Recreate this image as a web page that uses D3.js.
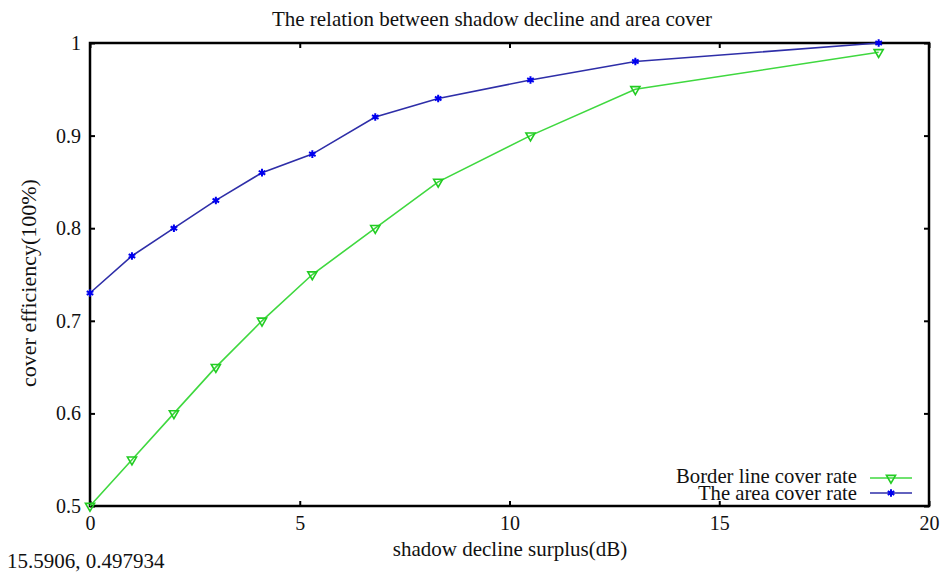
<!DOCTYPE html>
<html><head><meta charset="utf-8">
<script src="https://cdn.jsdelivr.net/npm/d3@7"></script>
<style>
body{margin:0;background:#fff;}
svg text{font-family:"Liberation Serif","DejaVu Serif","Noto Serif",serif !important;fill:#111;}
</style></head>
<body><svg id="c" width="941" height="572"></svg>
<script>
const xValues = [0, 1, 2, 3, 4.1, 5.3, 6.8, 8.3, 10.5, 13, 18.8];
const borderLine = [0.5, 0.55, 0.6, 0.65, 0.7, 0.75, 0.8, 0.85, 0.9, 0.95, 0.99];
const areaCover = [0.73, 0.77, 0.8, 0.83, 0.86, 0.88, 0.92, 0.94, 0.96, 0.98, 1.0];
const xTicks = [0, 5, 10, 15, 20];
const yTicks = [0.5, 0.6, 0.7, 0.8, 0.9, 1];
const seriesNames = ["Border line cover rate", "The area cover rate"];

const svg = d3.select("#c");
const L = 90, R = 929, T = 43, B = 506;
const x = d3.scaleLinear().domain([0, 20]).range([L, R]);
const y = d3.scaleLinear().domain([0.5, 1]).range([B, T]);

svg.append("rect").attr("x", L).attr("y", T).attr("width", R - L).attr("height", B - T)
  .attr("fill", "none").attr("stroke", "#000").attr("stroke-width", 2.5);

const fs = 20;
const gx = svg.append("g").attr("transform", `translate(0,${B})`)
  .call(d3.axisBottom(x).tickValues(xTicks).tickSize(-5).tickPadding(10).tickFormat(d3.format("d")));
const gxt = svg.append("g").attr("transform", `translate(0,${T})`)
  .call(d3.axisTop(x).tickValues(xTicks).tickSize(-5).tickFormat(""));
const gy = svg.append("g").attr("transform", `translate(${L},0)`)
  .call(d3.axisLeft(y).tickValues(yTicks).tickSize(-5).tickPadding(9).tickFormat(d => d === 1 ? "1" : d3.format(".1f")(d)));
const gyr = svg.append("g").attr("transform", `translate(${R},0)`)
  .call(d3.axisRight(y).tickValues(yTicks).tickSize(-5).tickFormat(""));
[gx, gxt, gy, gyr].forEach(g => {
  g.attr("font-family", null);
  g.select(".domain").remove();
  g.selectAll("line").attr("stroke", "#000").attr("stroke-width", 2);
  g.selectAll("text").attr("font-size", fs).attr("fill", "#111");
});
gx.selectAll("text").attr("dy", "0.71em");

const line = d3.line().x((d, i) => x(xValues[i])).y(d => y(d));
svg.append("path").datum(borderLine).attr("d", line).attr("fill", "none")
  .attr("stroke", "#3fd83f").attr("stroke-width", 1.6);
svg.append("path").datum(areaCover).attr("d", line).attr("fill", "none")
  .attr("stroke", "#2e2ea8").attr("stroke-width", 1.6);

const tri = d3.symbol().type(d3.symbolTriangle).size(36);
const star = d3.symbol().type(d3.symbolAsterisk || d3.symbolCross).size(40);
function drawTri(g, cx, cy) {
  g.append("path").attr("d", tri()).attr("transform", `translate(${cx},${cy}) rotate(180)`)
    .attr("fill", "none").attr("stroke", "#22cc22").attr("stroke-width", 1.6);
}
function drawStar(g, cx, cy) {
  g.append("path").attr("d", star()).attr("transform", `translate(${cx},${cy})`)
    .attr("fill", "none").attr("stroke", "#0000ee").attr("stroke-width", 2);
  g.append("circle").attr("cx", cx).attr("cy", cy).attr("r", 2).attr("fill", "#0000ee");
}
const mk = svg.append("g");
borderLine.forEach((v, i) => drawTri(mk, x(xValues[i]), y(v)));
areaCover.forEach((v, i) => drawStar(mk, x(xValues[i]), y(v)));

svg.append("text").attr("x", 492).attr("y", 26).attr("text-anchor", "middle")
  .attr("font-size", 21).text("The relation between shadow decline and area cover");
svg.append("text").attr("x", 510).attr("y", 556).attr("text-anchor", "middle")
  .attr("font-size", 21).text("shadow decline surplus(dB)");
svg.append("text").attr("transform", "translate(36,283) rotate(-90)").attr("text-anchor", "middle")
  .attr("font-size", 22).text("cover efficiency(100%)");
svg.append("text").attr("x", 7).attr("y", 568).attr("font-size", 21).text("15.5906,  0.497934");

const lg = svg.append("g");
const colors = ["#3fd83f", "#2e2ea8"];
seriesNames.forEach((n, i) => {
  const yy = 478 + i * 15;
  lg.append("text").attr("x", 857).attr("y", 483 + i * 17).attr("text-anchor", "end")
    .attr("font-size", 20.7).text(n);
  lg.append("line").attr("x1", 870).attr("x2", 912).attr("y1", yy).attr("y2", yy)
    .attr("stroke", colors[i]).attr("stroke-width", 1.6);
  if (i === 0) drawTri(lg, 891, yy); else drawStar(lg, 891, yy);
});
</script></body></html>
